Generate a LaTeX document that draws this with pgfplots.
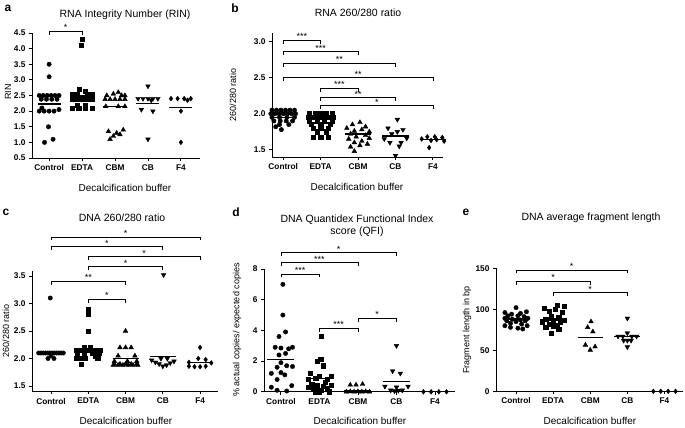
\documentclass[border=0pt]{standalone}
\usepackage{fontspec}
\setmainfont{Liberation Sans}
\usepackage{pgfplots}
\pgfplotsset{compat=1.18}

\pgfplotsset{
  dot/.style={
    scale only axis, anchor=south west, clip=false,
    axis x line*=bottom, axis y line*=left,
    axis line style={line width=0.9pt},
    tick align=outside, major tick length=3pt,
    tick style={line width=0.9pt, black},
    xtick={1,2,3,4,5},
    xticklabels={Control,EDTA,CBM,CB,F4},
    tick label style={font=\fontsize{8.3}{9}\selectfont\bfseries},
    /pgf/number format/assume math mode=true,
  },
  onedec/.style={yticklabel style={/pgf/number format/.cd,fixed,fixed zerofill,precision=1}},
  mean/.style={line width=1.3pt, black, no marks, forget plot},
  pc/.style={only marks, mark=*, mark size=2.2pt, black},
  ps/.style={only marks, mark=square*, mark size=2.1pt, black},
  pt/.style={only marks, mark=triangle*, mark size=2.7pt, black},
  pv/.style={only marks, mark=triangle*, mark options={rotate=180}, mark size=2.7pt, black},
  pd/.style={only marks, mark=diamond*, mark size=2.4pt, black},
}
\newcommand\brk[5]{%
  \draw[line width=0.8pt] ([yshift=-3.5pt]axis cs:#1,#3) -- (axis cs:#1,#3) -- (axis cs:#2,#3) -- ([yshift=-3.5pt]axis cs:#2,#3);
  \node[anchor=south, inner sep=0.4pt, font=\fontsize{9}{9}\selectfont] at (axis cs:#4,#3) {#5};
}

\begin{document}
\begin{tikzpicture}
\path[use as bounding box] (0,0) rectangle (685pt,428pt);

% ---------- a: RIN
\begin{axis}[dot, onedec, at={(32pt,270pt)}, width=168pt, height=125pt,
  xmin=0.48, xmax=5.58, ymin=0.5, ymax=4.5, ytick={0.5,1,...,4.5}]
\addplot[pc] coordinates {(1,3.5) (1,3.1)
 (0.7,2.5)(0.82,2.5)(0.94,2.5)(1.06,2.5)(1.18,2.5)(1.3,2.5)
 (0.76,2.38)(0.92,2.38)(1.08,2.38)(1.24,2.38)
 (0.7,2.0)(0.85,2.0)(1.0,2.0)(1.15,2.0)(1.3,2.05)(0.78,2.1)
 (0.98,1.5)(1.12,1.1)(0.86,1.0)};
\addplot[mean] coordinates {(0.65,2.23)(1.35,2.23)};
\addplot[ps] coordinates {(2,4.3)(1.98,4.1)(1.92,2.7)(2.1,2.65)
 (1.7,2.55)(1.85,2.55)(2.15,2.55)(2.3,2.55)
 (1.7,2.4)(1.85,2.4)(2.0,2.4)(2.15,2.4)(2.3,2.4)
 (1.85,2.2)(2.1,2.2)
 (1.7,2.1)(1.9,2.1)(2.1,2.1)(2.3,2.1)};
\addplot[mean] coordinates {(1.65,2.5)(2.35,2.5)};
\addplot[pt] coordinates {(3.1,2.6)(2.95,2.55)(2.75,2.5)(3.2,2.5)(3.3,2.5)
 (2.7,2.38)(2.85,2.38)(3.0,2.38)(3.15,2.38)(3.3,2.38)
 (2.72,2.15)(3.1,2.15)(3.3,2.15)
 (3.25,1.4)(2.8,1.35)(3.05,1.3)(2.95,1.2)(3.15,1.25)(2.85,1.1)};
\addplot[mean] coordinates {(2.65,2.15)(3.35,2.15)};
\addplot[pv] coordinates {(4,2.8)(3.7,2.4)(3.85,2.4)(4.0,2.4)(4.15,2.4)(4.3,2.4)
 (4.1,2.35)(3.8,2.05)(4.15,2.0)(4,1.1)};
\addplot[mean] coordinates {(3.65,2.25)(4.35,2.25)};
\addplot[pd] coordinates {(4.7,2.4)(4.9,2.4)(5.1,2.4)(5.3,2.4)(5.2,2.35)(5.0,2.0)(5,1.0)};
\addplot[mean] coordinates {(4.65,2.12)(5.35,2.12)};
\brk{1}{2}{4.55}{1.5}{*}
\end{axis}

% ---------- b: RNA 260/280
\begin{axis}[dot, onedec, at={(272pt,271pt)}, width=171pt, height=124pt,
  xmin=0.7, xmax=5.27, ymin=1.4, ymax=3.12, ytick={1.5,2,2.5,3}]
\addplot[pc] coordinates {(0.7,2.05)(0.82,2.05)(0.94,2.05)(1.06,2.05)(1.18,2.05)(1.3,2.05)
 (0.67,2.0)(0.78,2.0)(0.89,2.0)(1.0,2.0)(1.11,2.0)(1.22,2.0)(1.33,2.0)
 (0.7,1.95)(0.9,1.95)(1.1,1.95)(1.3,1.95)
 (0.75,1.9)(0.92,1.9)(1.08,1.9)(1.25,1.9)
 (0.9,1.85)(1.15,1.85)(0.8,1.82)(0.95,1.78)};
\addplot[mean] coordinates {(0.65,1.95)(1.35,1.95)};
\addplot[ps] coordinates {(1.7,2.0)(1.85,2.0)(2.0,2.0)(2.15,2.0)(2.3,2.0)
 (1.67,1.95)(1.8,1.95)(1.93,1.95)(2.07,1.95)(2.2,1.95)(2.33,1.95)
 (1.7,1.9)(1.9,1.9)(2.1,1.9)(2.3,1.9)
 (1.75,1.85)(2.0,1.85)(2.25,1.85)
 (1.8,1.8)(2.0,1.8)(2.2,1.8)
 (1.9,1.75)(2.15,1.75)
 (1.8,1.67)(2.0,1.67)(2.2,1.67)};
\addplot[mean] coordinates {(1.65,1.87)(2.35,1.87)};
\addplot[pt] coordinates {(3.05,1.88)(2.85,1.85)(3.2,1.82)(2.7,1.8)(3.1,1.78)(2.9,1.76)
 (3.3,1.75)(2.8,1.72)(3.2,1.7)(2.95,1.68)(3.3,1.66)(2.75,1.65)(3.1,1.62)(2.9,1.6)
 (3.25,1.58)(3.05,1.56)(2.8,1.54)(2.9,1.48)};
\addplot[mean] coordinates {(2.65,1.72)(3.35,1.72)};
\addplot[pv] coordinates {(4.05,1.92)(3.8,1.8)(4.2,1.78)(4.05,1.75)(3.9,1.72)(4.3,1.66)
 (3.7,1.65)(3.85,1.6)(4.15,1.6)(4.1,1.55)(4,1.42)};
\addplot[mean] coordinates {(3.65,1.69)(4.35,1.69)};
\addplot[pd] coordinates {(4.85,1.68)(5.05,1.68)(5.25,1.67)(4.7,1.65)(5.1,1.64)(4.95,1.63)(5.3,1.62)(4.9,1.53)};
\addplot[mean] coordinates {(4.65,1.64)(5.35,1.64)};
\brk{1}{2}{3.02}{1.5}{***}
\brk{1}{3}{2.86}{2}{***}
\brk{1}{4}{2.70}{2.5}{**}
\brk{1}{5}{2.50}{3}{**}
\brk{2}{3}{2.355}{2.5}{***}
\brk{2}{4}{2.22}{3}{**}
\brk{2}{5}{2.11}{3.5}{*}
\end{axis}

% ---------- c: DNA 260/280
\begin{axis}[dot, onedec, at={(32pt,36.5pt)}, width=186pt, height=121pt,
  xmin=0.49, xmax=5.48, ymin=1.4, ymax=3.6, ytick={1.5,2,2.5,3,3.5}]
\addplot[pc] coordinates {(0.98,3.1)
 (0.67,2.1)(0.73,2.1)(0.79,2.1)(0.85,2.1)(0.91,2.1)(0.97,2.1)(1.03,2.1)(1.09,2.1)(1.15,2.1)(1.21,2.1)(1.27,2.1)(1.33,2.1)
 (1.0,2.05)(0.92,2.0)(1.08,2.0)};
\addplot[mean] coordinates {(0.65,2.1)(1.35,2.1)};
\addplot[ps] coordinates {(2,2.9)(2,2.8)(2,2.5)(1.9,2.2)(2.05,2.2)
 (1.67,2.15)(1.8,2.15)(1.93,2.15)(2.07,2.15)(2.2,2.15)(2.33,2.15)
 (1.7,2.1)(1.9,2.1)(2.1,2.1)(2.3,2.1)
 (1.7,2.05)(2.2,2.05)
 (1.68,2.0)(1.8,2.0)(1.92,2.0)(2.25,2.0)(1.8,1.9)};
\addplot[mean] coordinates {(1.65,2.12)(2.35,2.12)};
\addplot[pt] coordinates {(3,2.5)(2.85,2.2)(3,2.2)(3.15,2.2)(2.8,2.05)(3.25,2.05)
 (2.7,1.95)(3.05,1.95)(3.3,1.95)
 (2.7,1.9)(2.85,1.9)(3.0,1.9)(3.15,1.9)(3.3,1.9)
 (2.67,1.88)(2.8,1.88)(2.93,1.88)(3.07,1.88)(3.2,1.88)(3.33,1.88)};
\addplot[mean] coordinates {(2.65,2.0)(3.35,2.0)};
\addplot[pv] coordinates {(4.02,3.52)(3.95,2.0)(4.12,2.0)(3.7,1.97)(4.3,1.95)(3.8,1.93)
 (4.2,1.92)(3.9,1.9)(4.1,1.88)(4.0,1.86)};
\addplot[mean] coordinates {(3.65,2.04)(4.35,2.04)};
\addplot[pd] coordinates {(5,2.2)(4.95,2.0)(5.15,1.98)(4.7,1.93)(5.3,1.92)(4.7,1.86)(4.85,1.85)(5.0,1.85)(5.15,1.86)};
\addplot[mean] coordinates {(4.65,1.93)(5.35,1.93)};
\brk{1}{5}{4.21}{3}{*}
\brk{1}{4}{4.03}{2.5}{*}
\brk{2}{5}{3.85}{3.5}{*}
\brk{2}{4}{3.67}{3}{*}
\brk{1}{3}{3.40}{2}{**}
\brk{2}{3}{3.08}{2.5}{*}
\end{axis}

% ---------- d: QFI
\begin{axis}[dot, at={(264pt,36.2pt)}, width=191pt, height=122.8pt,
  xmin=0.56, xmax=5.52, ymin=0, ymax=8, ytick={0,2,4,6,8}]
\addplot[pc] coordinates {(1.05,7.0)(1.05,5.0)(1.12,3.9)(0.95,3.6)(0.85,2.9)(1.0,2.85)(1.2,2.8)(1.3,2.9)
 (0.95,2.4)(1.12,2.5)(1.0,1.9)(1.15,1.7)(0.9,1.6)(1.3,1.65)(0.75,1.2)(1.0,1.25)(1.1,1.1)
 (0.9,0.8)(1.28,0.4)(0.75,0.3)(0.9,0.1)(1.15,0.05)};
\addplot[mean] coordinates {(0.65,2.1)(1.35,2.1)};
\addplot[ps] coordinates {(2.05,3.6)(2.03,2.1)(1.95,2.0)(2.1,1.7)(1.75,1.2)(2.3,1.0)(2.0,1.0)(1.9,0.9)(2.2,0.8)(1.7,0.8)
 (2.15,0.6)(1.8,0.5)(2.3,0.45)(1.95,0.4)(2.1,0.35)(1.7,0.3)(2.2,0.25)(1.85,0.2)(2.05,0.1)(1.9,0.0)(2.25,0.0)(2.0,-0.05)};
\addplot[mean] coordinates {(1.65,0.85)(2.35,0.85)};
\addplot[pt] coordinates {(2.8,0.45)(2.95,0.45)(3.12,0.5)(2.7,0.0)(2.8,0.02)(2.9,0.0)(3.0,0.02)(3.1,0.0)(3.2,0.02)(3.3,0.0)};
\addplot[mean] coordinates {(2.65,0.08)(3.35,0.08)};
\addplot[pv] coordinates {(4,3.0)(3.9,1.35)(4.1,1.2)(3.7,0.35)(4.0,0.3)(4.3,0.35)(3.85,0.1)(4.05,0.08)(4.15,0.1)(3.95,0.05)};
\addplot[mean] coordinates {(3.65,0.65)(4.35,0.65)};
\addplot[pd] coordinates {(4.7,0)(4.9,0)(5.1,0)(5.3,0)};
\addplot[mean] coordinates {(4.65,0)(5.35,0)};
\brk{1}{4}{9.06}{2.5}{*}
\brk{1}{3}{8.41}{2}{***}
\brk{1}{2}{7.68}{1.5}{***}
\brk{3}{4}{4.8}{3.5}{*}
\brk{2}{3}{4.15}{2.5}{***}
\end{axis}

% ---------- e: fragment length
\begin{axis}[dot, at={(496pt,36.7pt)}, width=187pt, height=123pt,
  xmin=0.46, xmax=5.5, ymin=0, ymax=150, ytick={0,50,100,150}]
\addplot[pc] coordinates {(1.0,102)(1.28,97)(0.7,96)(1.12,95)(0.88,94)(0.78,92)(1.05,92)(1.22,91)
 (0.7,89)(1.32,89)(0.9,88)(1.12,87)(0.75,86)(1.25,86)(1.0,85)(0.85,83)(1.15,82)
 (0.7,80)(1.3,80)(0.85,78)(1.05,77)(1.18,76)};
\addplot[mean] coordinates {(0.65,88)(1.35,88)};
\addplot[ps] coordinates {(2.1,105)(2.3,104)(1.75,101)(2.05,100)(1.9,98)(2.25,96)(1.95,92)(2.15,90)
 (1.8,88)(2.3,87)(2.0,86)(1.7,84)(2.2,84)(1.9,82)(2.1,81)(2.0,79)(1.8,78)(2.15,76)(1.95,71)};
\addplot[mean] coordinates {(1.65,87)(2.35,87)};
\addplot[pt] coordinates {(3.02,85)(2.93,78)(3.07,72.7)(2.87,56.5)(3.13,54.4)(3.0,50.4)};
\addplot[mean] coordinates {(2.66,66)(3.34,66)};
\addplot[pv] coordinates {(4,89)(4,71)(3.75,67)(3.88,67)(4.12,67)(4.25,67)(3.9,62)(4,62)(4.1,62)(4,54)};
\addplot[mean] coordinates {(3.65,67)(4.35,67)};
\addplot[pd] coordinates {(4.7,0)(4.9,0)(5.1,0)(5.3,0)};
\addplot[mean] coordinates {(4.65,0)(5.35,0)};
\brk{1}{4}{148}{2.5}{*}
\brk{1}{3}{134}{2}{*}
\brk{2}{4}{120}{3}{*}
\end{axis}

% ---------- titles, labels
\begin{scope}[every node/.style={font=\fontsize{10.5}{12}\selectfont}]
\node at (125pt,413pt) {RNA Integrity Number (RIN)};
\node at (358pt,415pt) {RNA 260/280 ratio};
\node at (122pt,210pt) {DNA 260/280 ratio};
\node[align=center] at (357pt,202.5pt) {DNA Quantidex Functional Index\\score (QFI)};
\node at (591pt,210pt) {DNA average fragment length};
\end{scope}
\begin{scope}[every node/.style={font=\fontsize{10}{12}\selectfont}]
\node at (125pt,240pt) {Decalcification buffer};
\node at (357pt,241pt) {Decalcification buffer};
\node at (126pt,7pt) {Decalcification buffer};
\node at (360pt,7pt) {Decalcification buffer};
\node at (590pt,7pt) {Decalcification buffer};
\end{scope}
\begin{scope}[every node/.style={font=\fontsize{9}{10}\selectfont, rotate=90}]
\node at (8pt,336pt) {RIN};
\node at (233pt,333pt) {260/280 ratio};
\node at (6pt,97pt) {260/280 ratio};
\node at (237pt,98pt) {\% actual copies/ expected copies};
\node at (467pt,98pt) {Fragment length in bp};
\end{scope}
\begin{scope}[every node/.style={font=\fontsize{12}{12}\selectfont\bfseries}]
\node at (8pt,420pt) {a};
\node at (235pt,420pt) {b};
\node at (6pt,216pt) {c};
\node at (236pt,216pt) {d};
\node at (466pt,216pt) {e};
\end{scope}
\end{tikzpicture}
\end{document}
